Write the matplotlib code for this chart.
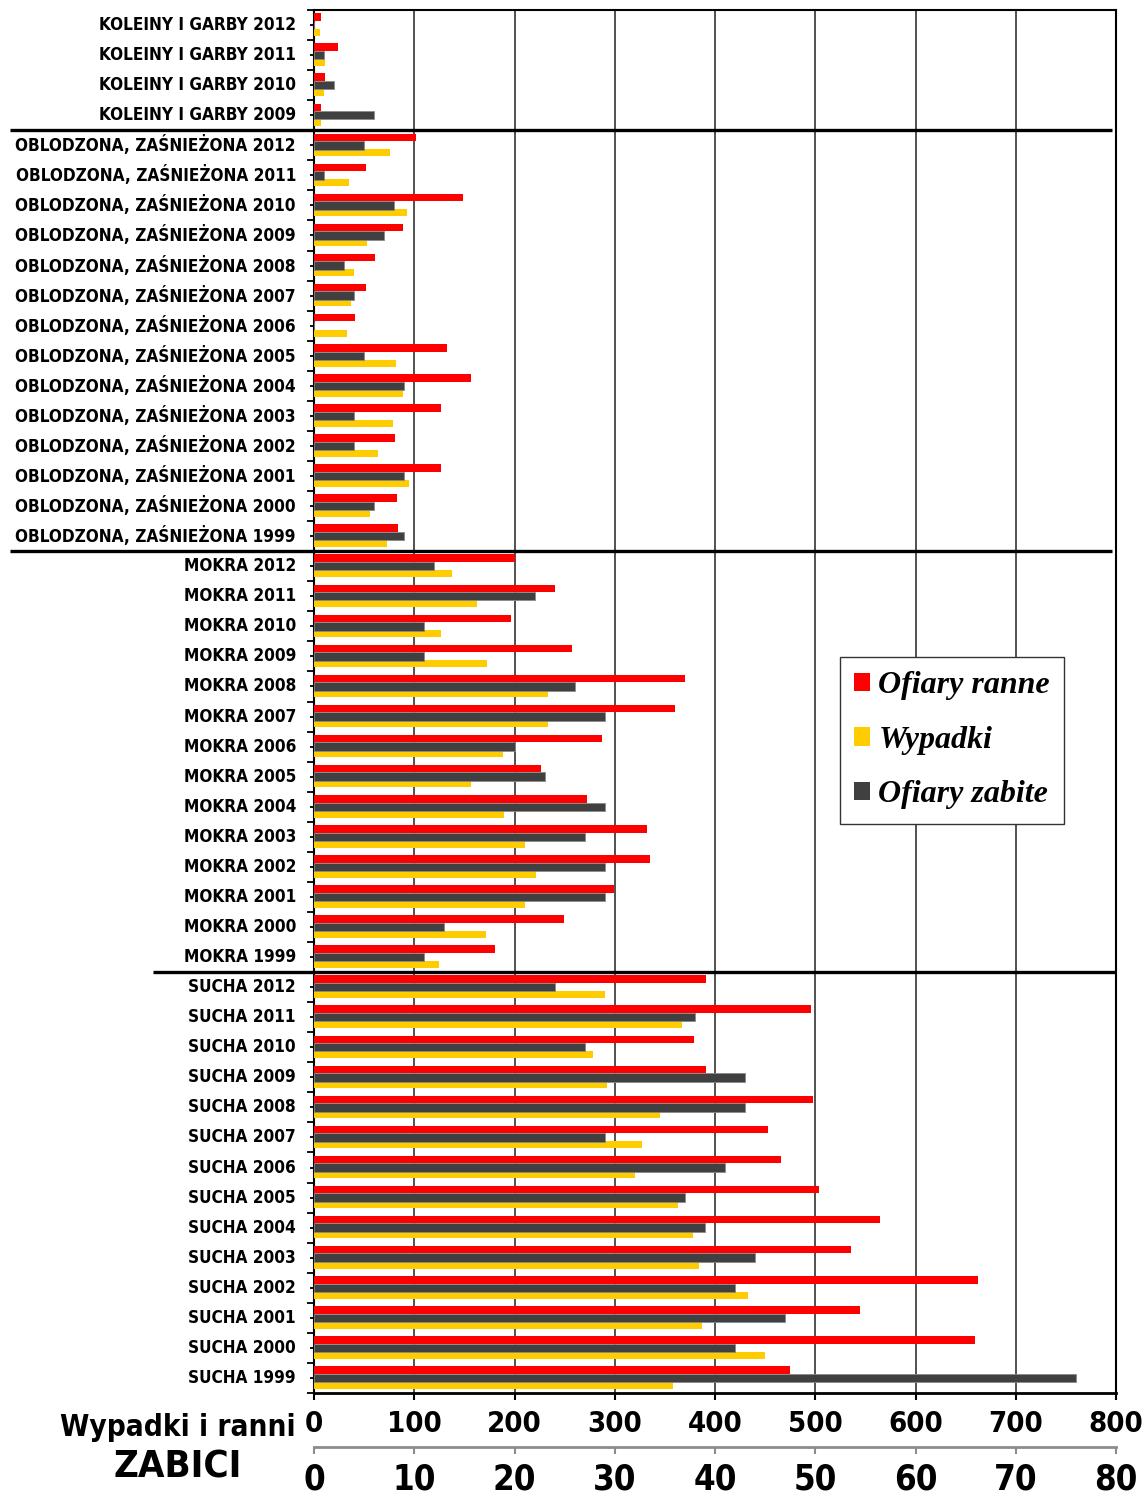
import numpy as np
import matplotlib
matplotlib.use("Agg")
import matplotlib.pyplot as plt
import matplotlib.transforms as mtransforms
from matplotlib.patches import Patch
from matplotlib import font_manager as fm

# ---- data (rows listed top to bottom, years descending) -------------------
groups = ["KOLEINY I GARBY", "OBLODZONA, ZAŚNIEŻONA", "MOKRA", "SUCHA"]

years_koleiny = [2012, 2011, 2010, 2009]
years_long = list(range(2012, 1998, -1))

ranne_koleiny = [7, 24, 11, 7]
wypadki_koleiny = [6, 11, 10, 7]
zabite_koleiny = [0, 1, 2, 6]

ranne_oblodzona = [102, 52, 149, 89, 61, 52, 41, 133, 157, 127, 81, 127, 83, 84]
wypadki_oblodzona = [76, 35, 93, 53, 40, 37, 33, 82, 89, 79, 64, 95, 56, 73]
zabite_oblodzona = [5, 1, 8, 7, 3, 4, 0, 5, 9, 4, 4, 9, 6, 9]

ranne_mokra = [200, 240, 197, 257, 370, 360, 287, 226, 272, 332, 335, 299, 249, 181]
wypadki_mokra = [138, 163, 127, 173, 233, 233, 189, 157, 190, 210, 221, 210, 172, 125]
zabite_mokra = [12, 22, 11, 11, 26, 29, 20, 23, 29, 27, 29, 29, 13, 11]

ranne_sucha = [391, 496, 379, 391, 498, 453, 466, 504, 565, 536, 662, 545, 659, 475]
wypadki_sucha = [290, 367, 278, 292, 345, 327, 320, 363, 378, 384, 433, 387, 450, 358]
zabite_sucha = [24, 38, 27, 43, 43, 29, 41, 37, 39, 44, 42, 47, 42, 76]

series_names = ["Ofiary ranne", "Wypadki", "Ofiary zabite"]
x_ticks_main = [0, 100, 200, 300, 400, 500, 600, 700, 800]
x_ticks_killed = [0, 10, 20, 30, 40, 50, 60, 70, 80]

# ---- assemble rows ---------------------------------------------------------
blocks = [
    (groups[0], years_koleiny, ranne_koleiny, wypadki_koleiny, zabite_koleiny),
    (groups[1], years_long, ranne_oblodzona, wypadki_oblodzona, zabite_oblodzona),
    (groups[2], years_long, ranne_mokra, wypadki_mokra, zabite_mokra),
    (groups[3], years_long, ranne_sucha, wypadki_sucha, zabite_sucha),
]
labels, ranne, wypadki, zabite, block_ends = [], [], [], [], []
for name, yrs, r, w, z in blocks:
    labels += [f"{name} {y}" for y in yrs]
    ranne += r
    wypadki += w
    zabite += z
    block_ends.append(len(labels))

n = len(labels)
pos = np.arange(n)

# ---- fonts -----------------------------------------------------------------
available = {f.name for f in fm.fontManager.ttflist}
NARROW = next((f for f in ["Liberation Sans Narrow", "Arial Narrow"] if f in available), None)
if NARROW is None:
    narrow_font = dict(family=["DejaVu Sans"], weight="bold", stretch="condensed")
    k = 1.0
else:
    narrow_font = dict(family=[NARROW, "DejaVu Sans"], weight="bold")
    k = 1.1

RED = "#FF0000"
YELLOW = "#FFCC00"
DARK = "#404040"

# ---- figure ----------------------------------------------------------------
W, H = 1142, 1495
fig = plt.figure(figsize=(W / 100, H / 100), dpi=100)
fig.patch.set_facecolor("white")

left, right, top, bottom = 314, 1116, 10, 1393
ax = fig.add_axes([left / W, 1 - bottom / H, (right - left) / W, (bottom - top) / H])

bh = 0.25
ax.barh(pos - 0.265, ranne, height=bh, color=RED, zorder=3)
ax.barh(pos + 0.245, wypadki, height=bh - 0.02, color=YELLOW, zorder=3)

ax.set_xlim(0, 800)
ax.set_ylim(n - 0.5, -0.5)

# killed victims on their own scale (0-80) sharing the same width
ax2 = ax.twiny()
ax2.barh(pos, zabite, height=0.28, color=DARK, edgecolor="#8a8a8a",
         linewidth=0.6, zorder=3)
ax2.set_xlim(0, 80)

# main axis styling
ax.set_xticks(x_ticks_main)
ax.set_xticklabels([str(v) for v in x_ticks_main], fontsize=21 * k, **narrow_font)
ax.tick_params(axis="x", direction="out", length=5, width=1.5, pad=7, colors="black")
ax.xaxis.grid(True, color="#222222", linewidth=1.1, zorder=0)
ax.set_axisbelow(True)

ax.set_yticks(pos)
ax.set_yticklabels(labels, fontsize=12.3 * k, **narrow_font)
ax.set_yticks(np.arange(-0.5, n, 1.0), minor=True)
ax.tick_params(axis="y", which="major", direction="out", length=3, width=1.3, pad=10)
ax.tick_params(axis="y", which="minor", direction="out", length=5, width=1.3)
for lbl in ax.get_yticklabels():
    lbl.set_verticalalignment("center")

for side in ["top", "right", "left"]:
    ax.spines[side].set_linewidth(1.5)
    ax.spines[side].set_color("black")
ax.spines["bottom"].set_linewidth(2)

# secondary (killed) axis placed below the main one
ax2.xaxis.set_ticks_position("bottom")
ax2.xaxis.set_label_position("bottom")
ax2.spines["bottom"].set_position(("outward", 39))
ax2.spines["bottom"].set_color("#8c8c8c")
ax2.spines["bottom"].set_linewidth(2)
for side in ["top", "right", "left"]:
    ax2.spines[side].set_visible(False)
ax2.set_xticks(x_ticks_killed)
ax2.set_xticklabels([str(v) for v in x_ticks_killed], fontsize=25 * k, **narrow_font)
ax2.tick_params(axis="x", direction="out", length=5, width=1.5, color="#8c8c8c",
                labelcolor="black", pad=6)

# thick separators between road-condition groups
trans = mtransforms.blended_transform_factory(fig.transFigure, ax.transData)
sep_x = [(10 / W, 1112 / W), (10 / W, 1112 / W), (153 / W, 1116 / W)]
for end, (x0, x1) in zip(block_ends[:-1], sep_x):
    ax.plot([x0, x1], [end - 0.5, end - 0.5], transform=trans, color="black",
            linewidth=2.4, clip_on=False, zorder=5, solid_capstyle="butt")

# axis captions on the left of the two scales
fig.text(296 / W, 1 - 1427 / H, "Wypadki i ranni", ha="right", va="center",
         fontsize=21.3 * k, **narrow_font)
fig.text(178 / W, 1 - 1468 / H, "ZABICI", ha="center", va="center",
         fontsize=27.5 * k, **narrow_font)

# legend
handles = [Patch(facecolor=RED), Patch(facecolor=YELLOW), Patch(facecolor=DARK)]
leg = fig.legend(handles, series_names, loc="upper left",
                 bbox_to_anchor=(840 / W, 1 - 657 / H), bbox_transform=fig.transFigure,
                 borderaxespad=0, frameon=True, fancybox=False, framealpha=1,
                 handlelength=0.5, handleheight=0.5, handletextpad=0.25,
                 labelspacing=0.8, borderpad=0.45,
                 prop=dict(family=["Liberation Serif", "DejaVu Serif"], weight="bold",
                           style="italic", size=23))
leg.get_frame().set_edgecolor("#333333")
leg.get_frame().set_linewidth(1.0)

fig.savefig("out.png", dpi=100, facecolor="white")
